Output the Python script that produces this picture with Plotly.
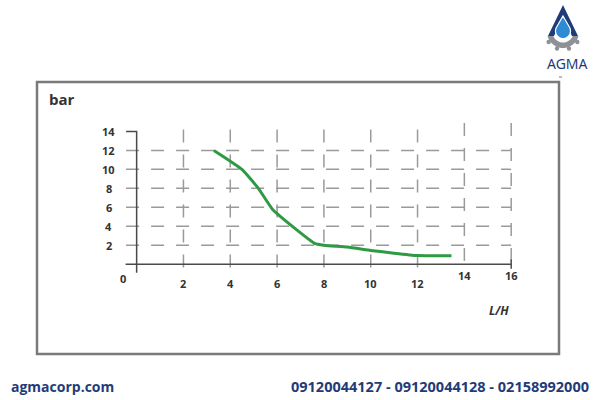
import numpy as np
import plotly.graph_objects as go

# ---------------- data ----------------
flow_lh = [3.3, 4.5, 5.2, 5.8, 6.8, 7.6, 8.0, 9.0, 10.0, 11.0, 12.0, 13.45]
pressure_bar = [12.0, 10.0, 8.0, 5.8, 3.7, 2.2, 2.0, 1.8, 1.45, 1.15, 0.9, 0.88]

x_ticks = [2, 4, 6, 8, 10, 12, 14, 16]
x_tick_labels = ["2", "4", "6", "8", "10", "12", "14", "16"]
y_ticks = [2, 4, 6, 8, 10, 12, 14]
y_tick_labels = ["2", "4", "6", "8", "10", "12", "14"]
h_grid = [2, 4, 6, 8, 10, 12]
v_grid = [2, 4, 6, 8, 10, 12, 14, 16]
v_grid_top = [14.2, 14.2, 14.2, 14.2, 14.2, 14.2, 14.9, 14.9]

x_title = "L/H"
y_title = "bar"
site_text = "agmacorp.com"
phone_text = "09120044127 - 09120044128 - 02158992000"
brand = "AGMA"

# ---------------- layout geometry ----------------
W, H = 600, 400
ML, MR, MT, MB = 43, 42, 103, 79
PW, PH = W - ML - MR, H - MT - MB


def px(x):
    return (x - ML) / PW


def py(y):
    return (H - MB - y) / PH


def path(pts, close=True):
    s = "M " + " L ".join(f"{px(a):.5f},{py(b):.5f}" for a, b in pts)
    return s + (" Z" if close else "")


fig = go.Figure()

grid_col = "#9a9a9a"
axis_col = "#4a4a4a"
dash = "13px,12px"

hx, hy = [], []
for g in h_grid:
    hx += [-0.45, 16, None]
    hy += [g, g, None]
fig.add_trace(go.Scatter(x=hx, y=hy, mode="lines",
                         line=dict(color=grid_col, width=1.5, dash=dash),
                         hoverinfo="skip", showlegend=False))
vx, vy = [], []
for g, top in zip(v_grid, v_grid_top):
    vx += [g, g, None]
    vy += [top, -0.8, None]
fig.add_trace(go.Scatter(x=vx, y=vy, mode="lines",
                         line=dict(color=grid_col, width=1.5, dash=dash),
                         hoverinfo="skip", showlegend=False))
fig.add_trace(go.Scatter(x=[-0.47, 16, None, 0, 0, -0.45, None, 16, 16],
                         y=[0, 0, None, -0.9, 14, 14, None, 0.5, -0.5],
                         mode="lines", line=dict(color=axis_col, width=1.5),
                         hoverinfo="skip", showlegend=False))
fig.add_trace(go.Scatter(x=flow_lh, y=pressure_bar, mode="lines",
                         line=dict(color="#2f9a44", width=3, shape="spline", smoothing=0.4),
                         hoverinfo="skip", showlegend=False))

tick_font = dict(family="Open Sans, Arial, sans-serif", size=11, color="#333333")
ann = []


def A(**kw):
    kw.setdefault("showarrow", False)
    kw.setdefault("xanchor", "center")
    kw.setdefault("yanchor", "middle")
    ann.append(kw)


for v, t in zip(y_ticks, y_tick_labels):
    A(x=-1.2, y=v, xref="x", yref="y", text=f"<b>{t}</b>", font=tick_font)
for v, t in zip(x_ticks, x_tick_labels):
    yy = -1.25 if v >= 14 else -2.0
    A(x=v, y=yy, xref="x", yref="y", text=f"<b>{t}</b>", font=tick_font)
A(x=-0.6, y=-1.55, xref="x", yref="y", text="<b>0</b>", font=tick_font)
A(x=15.5, y=-4.85, xref="x", yref="y", text=f"<b><i>{x_title}</i></b>",
  font=dict(family="Open Sans, Arial, sans-serif", size=12, color="#333333"))
A(x=px(47), y=py(99), xref="paper", yref="paper", xanchor="left",
  text=f"<b>{y_title}</b>",
  font=dict(family="Open Sans, Arial, sans-serif", size=15, color="#333333"))
navy = "#1f3c78"
A(x=px(9), y=py(386), xref="paper", yref="paper", xanchor="left",
  text=f"<b>{site_text}</b>",
  font=dict(family="Open Sans, sans-serif", size=14, color=navy))
A(x=px(591), y=py(386), xref="paper", yref="paper", xanchor="right",
  text=f"<b>{phone_text}</b>",
  font=dict(family="Open Sans, sans-serif", size=14.5, color=navy))
A(x=px(567), y=py(63), xref="paper", yref="paper",
  text=brand, font=dict(family="Noto Sans, sans-serif", size=14, color=navy))

shapes = []
shapes.append(dict(type="rect", xref="paper", yref="paper",
                   x0=px(37), x1=px(559), y0=py(354), y1=py(82),
                   line=dict(color="#7a7a7a", width=2.5), fillcolor="rgba(0,0,0,0)"))
# logo: gear ring (lower half) with teeth
ring = []
cx, cy = 563, 32
for a in np.linspace(195, 345, 16):
    ring.append((cx + 16 * np.cos(np.radians(a)), cy - 16 * np.sin(np.radians(a))))
for a in np.linspace(345, 195, 16):
    ring.append((cx + 10.5 * np.cos(np.radians(a)), cy - 10.5 * np.sin(np.radians(a))))
shapes.append(dict(type="path", xref="paper", yref="paper", path=path(ring),
                   fillcolor="#8e9296", line=dict(width=0)))
for a in [215, 250, 290, 325]:
    c, s = np.cos(np.radians(a)), np.sin(np.radians(a))
    tx, ty = cx + 17.5 * c, cy - 17.5 * s
    shapes.append(dict(type="circle", xref="paper", yref="paper",
                       x0=px(tx - 2.2), x1=px(tx + 2.2), y0=py(ty + 2.2), y1=py(ty - 2.2),
                       fillcolor="#8e9296", line=dict(width=0)))
# navy A
shapes.append(dict(type="path", xref="paper", yref="paper",
                   path=path([(563, 5), (578, 36), (572, 36), (563, 17), (554, 36), (548, 36)]),
                   fillcolor=navy, line=dict(width=0)))
# drop
dcx, dcy, dr = 563, 31, 7.5
pts = [(563, 16)]
for a in np.linspace(-30, 210, 30):
    pts.append((dcx + dr * np.cos(np.radians(a)), dcy + dr * np.sin(np.radians(a))))
shapes.append(dict(type="path", xref="paper", yref="paper", path=path(pts),
                   fillcolor="#2f8ad6", line=dict(color="white", width=1.2)))
shapes.append(dict(type="line", xref="paper", yref="paper",
                   x0=px(559), x1=px(562), y0=py(77), y1=py(77),
                   line=dict(color="#777777", width=1)))

fig.update_layout(
    width=W, height=H, margin=dict(l=ML, r=MR, t=MT, b=MB),
    paper_bgcolor="white", plot_bgcolor="white",
    xaxis=dict(range=[-4, 18], visible=False, fixedrange=True),
    yaxis=dict(range=[-6, 17], visible=False, fixedrange=True),
    annotations=ann, shapes=shapes, showlegend=False,
)

fig.write_html("out.html", config={"displayModeBar": False},
               post_script="document.body.style.margin='0';")
